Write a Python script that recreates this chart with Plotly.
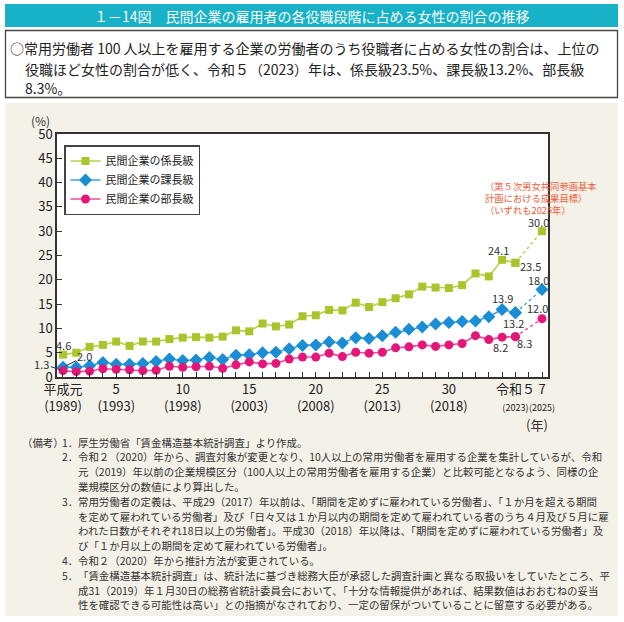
import plotly.graph_objects as go

# ---------------- data ----------------
years = list(range(1989, 2024))
kakaricho = [4.6, 5.0, 6.2, 6.6, 7.3, 6.4, 7.3, 7.3, 7.8, 8.1, 8.2, 8.1, 8.3, 9.6, 9.4,
             11.0, 10.4, 10.8, 12.5, 12.7, 13.8, 13.7, 15.3, 14.4, 15.4, 16.2, 17.0,
             18.6, 18.4, 18.3, 18.9, 21.3, 20.7, 24.1, 23.5]
kacho = [2.0, 2.0, 2.3, 3.0, 2.6, 2.6, 2.8, 3.2, 3.7, 3.4, 3.5, 4.0, 3.6, 4.5, 4.6,
         5.0, 5.1, 5.8, 6.5, 6.6, 7.2, 7.0, 8.1, 7.9, 8.5, 9.2, 9.8, 10.3, 10.9,
         11.2, 11.4, 11.5, 12.4, 13.9, 13.2]
bucho = [1.3, 1.1, 1.2, 1.7, 1.6, 1.5, 1.3, 1.4, 2.2, 2.0, 2.1, 2.2, 1.8, 2.5, 3.1,
         2.7, 2.8, 3.7, 4.1, 4.1, 4.9, 4.2, 5.1, 4.9, 5.1, 6.0, 6.2, 6.6, 6.3,
         6.6, 6.9, 8.5, 7.7, 8.2, 8.3]
target_year = 2025
targets = [30.0, 18.0, 12.0]
series_names = ["民間企業の係長級", "民間企業の課長級", "民間企業の部長級"]

tick_years = list(range(1989, 2026))
tick_labels = {
    1989: "平成元<br>(1989)",
    1993: "5<br>(1993)",
    1998: "10<br>(1998)",
    2003: "15<br>(2003)",
    2008: "20<br>(2008)",
    2013: "25<br>(2013)",
    2018: "30<br>(2018)",
    2023: "令和５<br><span style='font-size:9px'>(2023)</span>",
    2025: "7<br><span style='font-size:9px'>(2025)</span>",
}

title_text = "１－14図　民間企業の雇用者の各役職段階に占める女性の割合の推移"
summary_lines = [
    "○常用労働者 100 人以上を雇用する企業の労働者のうち役職者に占める女性の割合は、上位の",
    "役職ほど女性の割合が低く、令和５（2023）年は、係長級23.5%、課長級13.2%、部長級",
    "8.3%。",
]
target_note = ["（第５次男女共同参画基本", "計画における成果目標）", "（いずれも2025年）"]
notes = [
    ("（備考）", "1．", "厚生労働省「賃金構造基本統計調査」より作成。"),
    ("", "2．", "令和２（2020）年から、調査対象が変更となり、10人以上の常用労働者を雇用する企業を集計しているが、令和"),
    ("", "", "元（2019）年以前の企業規模区分（100人以上の常用労働者を雇用する企業）と比較可能となるよう、同様の企"),
    ("", "", "業規模区分の数値により算出した。"),
    ("", "3．", "常用労働者の定義は、平成29（2017）年以前は、「期間を定めずに雇われている労働者」、「１か月を超える期間"),
    ("", "", "を定めて雇われている労働者」及び「日々又は１か月以内の期間を定めて雇われている者のうち４月及び５月に雇"),
    ("", "", "われた日数がそれぞれ18日以上の労働者」。平成30（2018）年以降は、「期間を定めずに雇われている労働者」及"),
    ("", "", "び「１か月以上の期間を定めて雇われている労働者」。"),
    ("", "4．", "令和２（2020）年から推計方法が変更されている。"),
    ("", "5．", "「賃金構造基本統計調査」は、統計法に基づき総務大臣が承認した調査計画と異なる取扱いをしていたところ、平"),
    ("", "", "成31（2019）年１月30日の総務省統計委員会において、「十分な情報提供があれば、結果数値はおおむねの妥当"),
    ("", "", "性を確認できる可能性は高い」との指摘がなされており、一定の留保がついていることに留意する必要がある。"),
]

# ---------------- styling ----------------
FONT = "Noto Sans CJK JP"
W, H = 624, 622
L, R, T, B = 57, 548, 134, 377
colors = ["#a8c62c", "#1a8dd4", "#e5167a"]
line_colors = ["#b6d04a", "#45a6df", "#ea4f98"]
symbols = ["square", "diamond", "circle"]
msizes = [8, 10, 9]


def PX(x):
    return (x - L) / (R - L)


def PY(y):
    return (B - y) / (B - T)


fig = go.Figure()
all_series = [kakaricho, kacho, bucho]
for i, vals in enumerate(all_series):
    fig.add_trace(go.Scatter(
        x=years, y=vals, mode="lines+markers", name=series_names[i],
        line=dict(color=line_colors[i], width=1.6),
        marker=dict(symbol=symbols[i], size=msizes[i], color=colors[i]),
    ))
for i, vals in enumerate(all_series):
    fig.add_trace(go.Scatter(
        x=[years[-1], target_year], y=[vals[-1], targets[i]], mode="lines+markers",
        showlegend=False,
        line=dict(color=line_colors[i], width=1.5, dash="dot"),
        marker=dict(symbol=symbols[i], size=msizes[i], color=colors[i]),
    ))

ann = []
lab_font = dict(family=FONT, size=11, color="#333333")


def data_label(x, y, text, dx, dy, arrow=False):
    ann.append(dict(x=x, y=y, xref="x", yref="y", text=text, showarrow=arrow,
                    ax=dx, ay=dy, xshift=0 if arrow else dx, yshift=0 if arrow else -dy,
                    arrowhead=0, arrowwidth=1, arrowcolor="#333333", standoff=2,
                    font=lab_font))


data_label(1989, kakaricho[0], "4.6", 1, -10)
data_label(1989, kacho[0], "2.0", 22, -11, arrow=True)
data_label(1989, bucho[0], "1.3", -21, -7, arrow=True)
data_label(2022, kakaricho[-2], "24.1", -4, -10)
data_label(2023, kakaricho[-1], "23.5", 15, 3)
data_label(target_year, targets[0], "30.0", -4, -9)
data_label(2022, kacho[-2], "13.9", 0, -11)
data_label(2023, kacho[-1], "13.2", -2, 10)
data_label(target_year, targets[1], "18.0", -4, -10)
data_label(2022, bucho[-2], "8.2", -2, 10)
data_label(2023, bucho[-1], "8.3", 9, 6)
data_label(target_year, targets[2], "12.0", -5, -11)

# target note (red)
for k, t in enumerate(target_note):
    ann.append(dict(x=PX(483), y=PY(186 + 11.8 * k), xref="paper", yref="paper",
                    text=t, showarrow=False, xanchor="left", yanchor="middle",
                    font=dict(family=FONT, size=9.3, color="#ee5a3a")))

# axis unit labels
ann.append(dict(x=PX(40), y=PY(121), xref="paper", yref="paper", text="(%)",
                showarrow=False, xanchor="center", yanchor="middle",
                font=dict(family=FONT, size=12, color="#333333")))
ann.append(dict(x=PX(537), y=PY(424), xref="paper", yref="paper", text="(年)",
                showarrow=False, xanchor="center", yanchor="middle",
                font=dict(family=FONT, size=13, color="#333333")))

# title
ann.append(dict(x=PX(312), y=PY(15.5), xref="paper", yref="paper", text=title_text,
                showarrow=False, xanchor="center", yanchor="middle",
                font=dict(family=FONT, size=14, color="white")))
# summary
sum_pos = [(8, 48), (23, 69), (23, 88)]
for (sx, sy), t in zip(sum_pos, summary_lines):
    ann.append(dict(x=PX(sx), y=PY(sy), xref="paper", yref="paper", text=t,
                    showarrow=False, xanchor="left", yanchor="middle",
                    font=dict(family=FONT, size=14, color="#222222")))
# notes
nfont = dict(family=FONT, size=10.45, color="#333333")
for k, (a, b, c) in enumerate(notes):
    yy = PY(442 + 14.8 * k)
    if a:
        ann.append(dict(x=PX(20), y=yy, xref="paper", yref="paper", text=a, showarrow=False,
                        xanchor="left", yanchor="middle", font=nfont))
    if b:
        ann.append(dict(x=PX(60), y=yy, xref="paper", yref="paper", text=b, showarrow=False,
                        xanchor="left", yanchor="middle", font=nfont))
    ann.append(dict(x=PX(76), y=yy, xref="paper", yref="paper", text=c, showarrow=False,
                    xanchor="left", yanchor="middle", font=nfont))

shapes = [
    dict(type="rect", xref="paper", yref="paper", x0=PX(5), x1=PX(618), y0=PY(103), y1=PY(616),
         fillcolor="#f4f1e8", line=dict(width=0), layer="below"),
    dict(type="rect", xref="paper", yref="paper", x0=0, x1=1, y0=0, y1=1,
         fillcolor="white", line=dict(width=0), layer="below"),
    dict(type="rect", xref="paper", yref="paper", x0=PX(5), x1=PX(618), y0=PY(4), y1=PY(27),
         fillcolor="#17b1c8", line=dict(width=0), layer="below"),
    dict(type="rect", xref="paper", yref="paper", x0=PX(5.5), x1=PX(617.5), y0=PY(30.5), y1=PY(97.5),
         fillcolor="white", line=dict(width=1.3, color="#444444"), layer="below"),
]

fig.update_layout(
    width=W, height=H,
    margin=dict(l=L, r=W - R, t=T, b=H - B, pad=0, autoexpand=False),
    paper_bgcolor="white", plot_bgcolor="white",
    font=dict(family=FONT, size=13, color="#222222"),
    showlegend=True,
    legend=dict(x=PX(64), y=PY(145), xanchor="left", yanchor="top",
                bgcolor="white", bordercolor="#444444", borderwidth=1.5,
                font=dict(family=FONT, size=11, color="#222222"),
                tracegroupgap=0, itemwidth=30),
    annotations=ann, shapes=shapes,
)
fig.update_xaxes(
    range=[1988.55, 2025.45], tickmode="array", tickvals=tick_years,
    ticktext=[tick_labels.get(y, "") for y in tick_years],
    tickangle=0, automargin=False,
    ticks="inside", ticklen=5, tickwidth=1, tickcolor="#333333",
    showline=True, linecolor="#333333", linewidth=1.5, mirror=True,
    showgrid=False, zeroline=False,
    tickfont=dict(family=FONT, size=13, color="#222222"),
)
fig.update_yaxes(
    range=[0, 50], dtick=5, tick0=0, automargin=False,
    ticks="inside", ticklen=5, tickwidth=1, tickcolor="#333333",
    showline=True, linecolor="#333333", linewidth=1.5, mirror=True,
    showgrid=False, zeroline=False,
    tickfont=dict(family=FONT, size=13, color="#222222"),
)

fig.write_html("out.html", config={"displayModeBar": False},
               post_script="document.body.style.margin='0';")
